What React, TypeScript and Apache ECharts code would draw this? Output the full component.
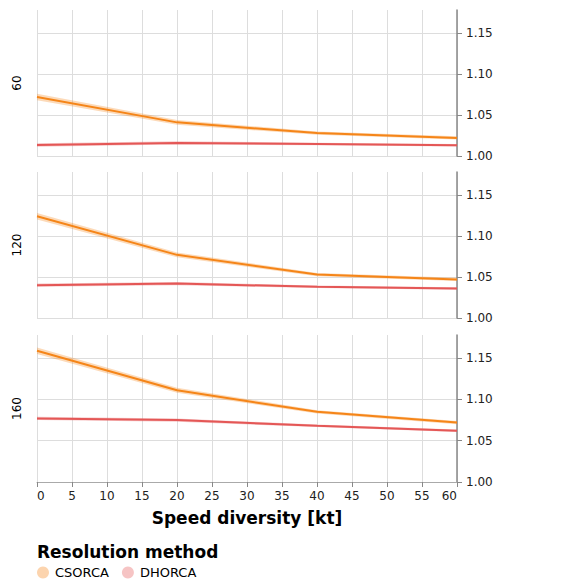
import React, { useEffect, useRef } from "react";
import * as echarts from "echarts";

const speeds = [0, 20, 40, 60];
const rows = ["60", "120", "160"];
const methods = ["CSORCA", "DHORCA"];
const colors = ["#f58518", "#e45756"];

// CSORCA mean per row
const cs60 = [1.072, 1.041, 1.028, 1.022];
const cs120 = [1.124, 1.077, 1.053, 1.047];
const cs160 = [1.159, 1.111, 1.085, 1.072];
// DHORCA mean per row
const dh60 = [1.0134, 1.016, 1.0146, 1.013];
const dh120 = [1.040, 1.042, 1.038, 1.036];
const dh160 = [1.077, 1.075, 1.068, 1.062];
// confidence half-widths
const csCi = [0.004, 0.003, 0.002, 0.002];
const dhCi = [0.002, 0.002, 0.0015, 0.0015];

const yTicks = [1.0, 1.05, 1.1, 1.15];
const xTicks = [0, 5, 10, 15, 20, 25, 30, 35, 40, 45, 50, 55, 60];

const rowData = [
  [cs60, dh60],
  [cs120, dh120],
  [cs160, dh160],
];
const ciData = [csCi, dhCi];

const FONT = "DejaVu Sans";

export default function App() {
  const ref = useRef<HTMLDivElement>(null);
  useEffect(() => {
    if (!ref.current) return;
    const chart = echarts.init(ref.current, null, { renderer: "svg" });
    const tops = [2, 164, 327];
    const heights = [146, 146, 147];
    const grids = tops.map((t, i) => ({ left: 29, width: 420, top: t, height: heights[i] }));
    const xAxes = tops.map((_, i) => ({
      type: "value",
      gridIndex: i,
      min: xTicks[0],
      max: xTicks[xTicks.length - 1],
      interval: 5,
      splitLine: { show: true, lineStyle: { color: "#ddd", width: 1 } },
      axisLine: { show: i === 2, onZero: false, lineStyle: { color: "#aaa" } },
      axisTick: { show: i === 2, length: 5, lineStyle: { color: "#888" } },
      axisLabel: {
        show: i === 2,
        fontFamily: FONT,
        fontSize: 12,
        color: "#222",
        margin: 8,
        alignMinLabel: "left",
        alignMaxLabel: "right",
      },
      name: i === 2 ? "Speed diversity [kt]" : "",
      nameLocation: "middle",
      nameGap: 27,
      nameTextStyle: { fontFamily: FONT, fontSize: 17, fontWeight: "bold", color: "#000" },
    }));
    const yAxes = tops.map((_, i) => ({
      type: "value",
      gridIndex: i,
      position: "right",
      min: yTicks[0],
      max: 1.178,
      interval: 0.05,
      splitLine: { show: true, showMaxLine: false, lineStyle: { color: "#ddd", width: 1 } },
      axisLine: { show: true, onZero: false, lineStyle: { color: "#888", width: 1.5 } },
      axisTick: { show: true, length: 5, lineStyle: { color: "#888" } },
      axisLabel: {
        fontFamily: FONT,
        fontSize: 12,
        color: "#222",
        margin: 9,
        showMaxLabel: false,
        formatter: (v: number) => v.toFixed(2),
      },
    }));
    const series: any[] = [];
    rowData.forEach((pair, r) => {
      pair.forEach((vals, m) => {
        const ci = ciData[m];
        series.push({
          type: "custom",
          name: methods[m] + " band",
          xAxisIndex: r,
          yAxisIndex: r,
          silent: true,
          z: 1,
          data: speeds.map((s, k) => [s, vals[k]]),
          renderItem: (params: any, api: any) => {
            if (params.dataIndex !== 0) return null;
            const upper = speeds.map((s, k) => api.coord([s, vals[k] + ci[k]]));
            const lower = speeds.map((s, k) => api.coord([s, vals[k] - ci[k]])).reverse();
            return {
              type: "polygon",
              shape: { points: upper.concat(lower) },
              style: { fill: colors[m], opacity: 0.3 },
            };
          },
        });
        series.push({
          type: "line",
          name: methods[m],
          xAxisIndex: r,
          yAxisIndex: r,
          z: 3,
          showSymbol: false,
          symbol: "none",
          color: colors[m],
          lineStyle: { color: colors[m], width: 2 },
          data: speeds.map((s, k) => [s, vals[k]]),
        });
      });
    });
    const rowLabels = rows.map((label, i) => ({
      type: "text",
      x: 8.5,
      y: tops[i] + heights[i] / 2,
      rotation: Math.PI / 2,
      style: {
        text: label,
        fontFamily: FONT,
        fontSize: 12,
        fill: "#000",
        align: "center",
        verticalAlign: "middle",
      },
    }));
    chart.setOption({
      animation: false,
      grid: grids,
      xAxis: xAxes,
      yAxis: yAxes,
      series,
      title: {
        text: "Resolution method",
        left: 24,
        top: 530,
        textStyle: { fontFamily: FONT, fontSize: 17, fontWeight: "bold", color: "#000" },
      },
      legend: {
        left: 29,
        top: 558,
        icon: "circle",
        itemWidth: 12,
        itemHeight: 12,
        itemGap: 13,
        padding: 0,
        textStyle: { fontFamily: FONT, fontSize: 13, color: "#000", padding: [0, 0, 0, 1] },
        data: methods.map((m, i) => ({ name: m, itemStyle: { color: colors[i], opacity: 0.35 } })),
      },
      graphic: rowLabels,
    });
    return () => chart.dispose();
  }, []);
  return <div ref={ref} style={{ width: 568, height: 577 }} />;
}
